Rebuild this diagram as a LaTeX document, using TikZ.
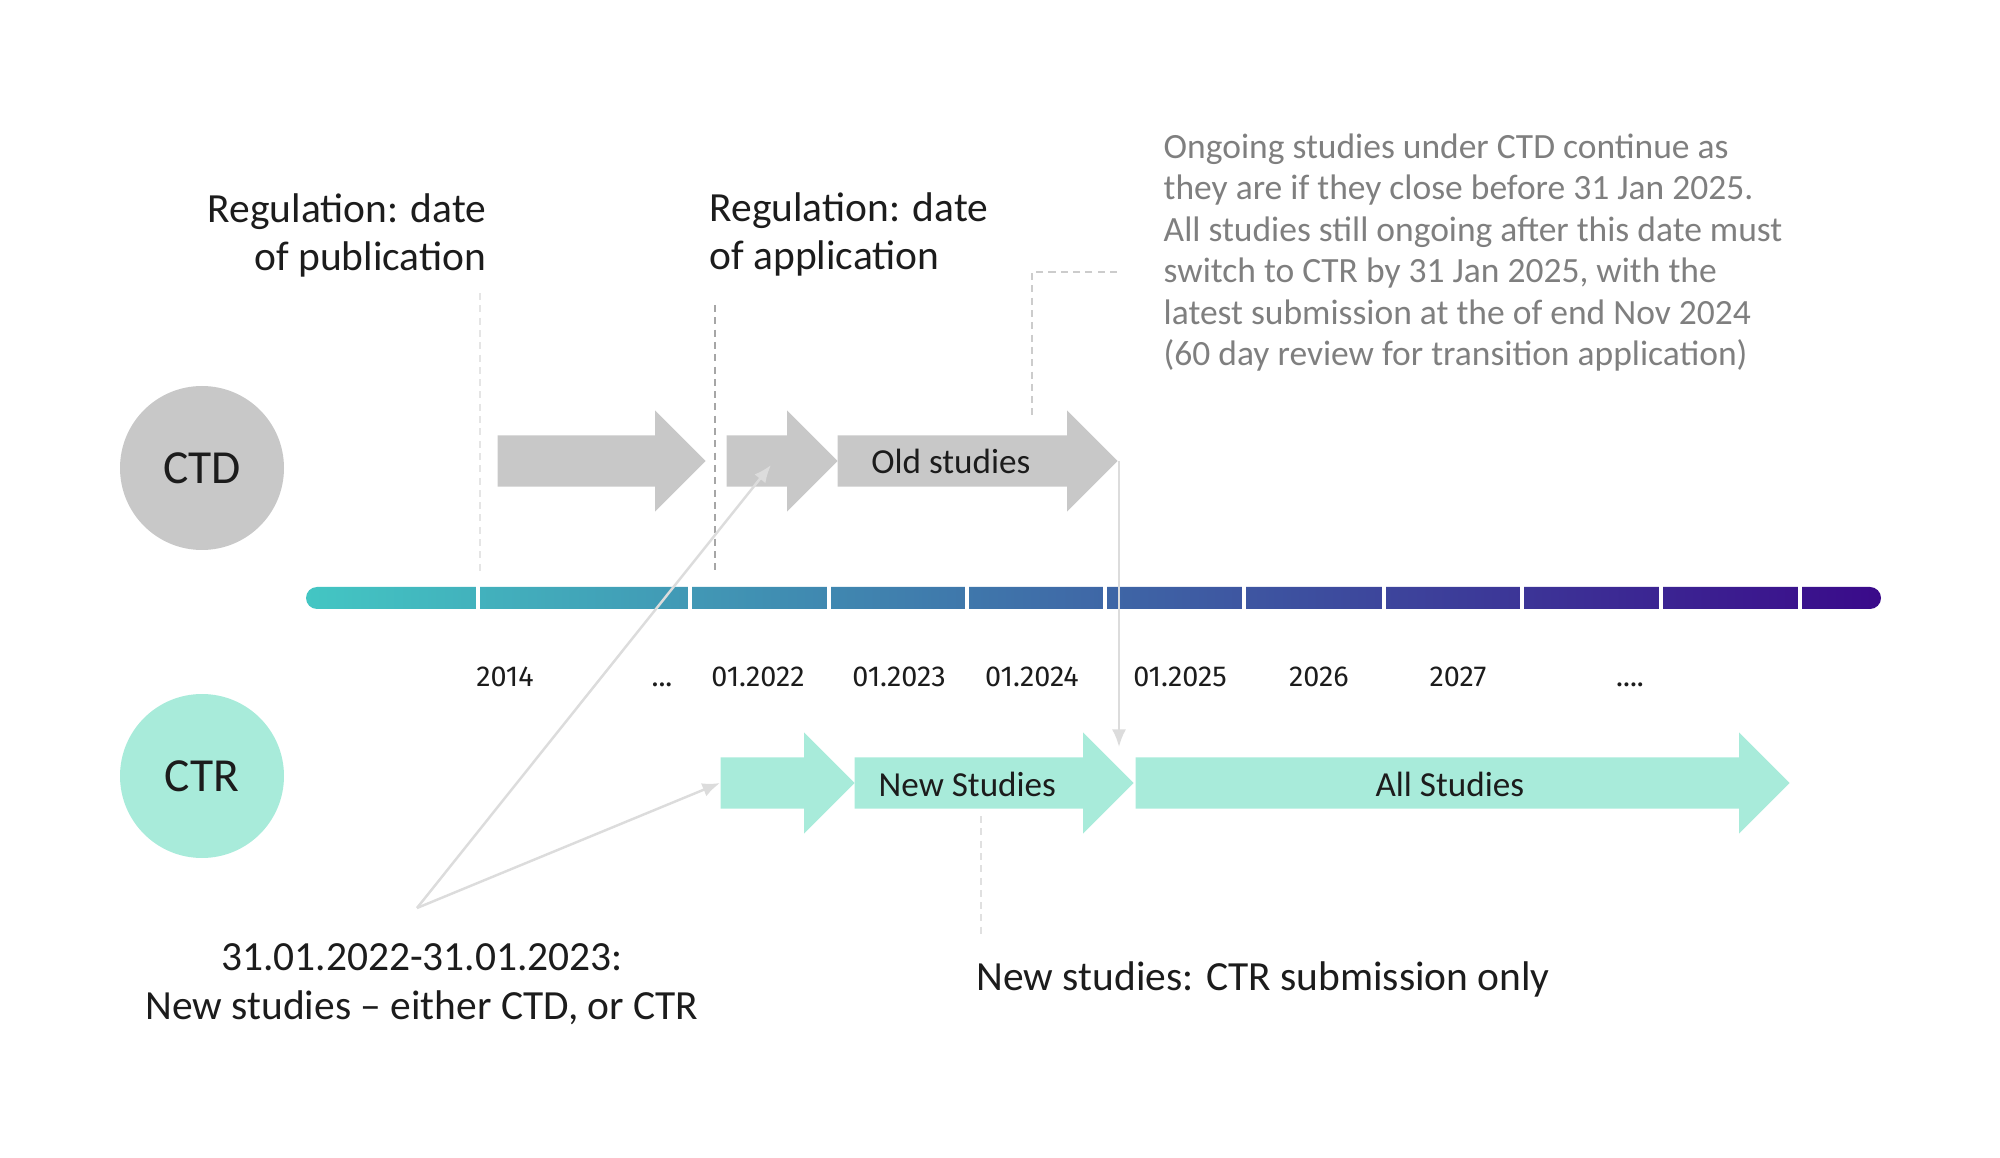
\documentclass[tikz,border=0pt]{standalone}
\usepackage{fontspec}
\setmainfont{Carlito}
\newfontfamily\datefont{Fira Sans}
\usetikzlibrary{shapes.arrows,arrows.meta}

\definecolor{ctdgray}{HTML}{C8C8C8}
\definecolor{ctrgreen}{HTML}{A8EBDA}
\definecolor{barstart}{HTML}{43C6C3}
\definecolor{barmid}{HTML}{3D5AA3}
\definecolor{barend}{HTML}{3A0A8A}
\definecolor{notegray}{HTML}{7F7F7F}
\definecolor{pointergray}{HTML}{DCDCDC}
\definecolor{inktext}{HTML}{1C1C1C}

\tikzset{
  phase/.style={circle, minimum size=1.64cm, inner sep=0pt, text=inktext,
    font=\fontsize{13.5}{15}\selectfont},
  blockarrow/.style={single arrow, single arrow head extend=0.25cm,
    single arrow tip angle=90, inner xsep=0pt, inner ysep=0pt,
    text height=0.38cm, text depth=0.12cm, anchor=tail, text=inktext,
    font=\fontsize{10}{12}\selectfont},
  ctdarrow/.style={blockarrow, fill=ctdgray},
  ctrarrow/.style={blockarrow, fill=ctrgreen},
  yearlabel/.style={anchor=base, inner sep=0pt, text=inktext,
    font=\datefont\fontsize{8.2}{10}\selectfont},
  pointer/.style={draw=pointergray, line width=0.7pt,
    -{Latex[length=5pt,width=4pt]}},
  leader/.style={dashed, dash pattern=on 2pt off 1.5pt, line width=0.4pt}
}

\begin{document}
\begin{tikzpicture}
      \useasboundingbox (0,0) rectangle (20,-11.58);
      %%%%%%%%%%%%%%%%%%%%%%%%%%%%%%%%%%%%%%%%%%%%%%%
      \node[inner sep=0pt, align=right, anchor=north east, text=inktext,
            font=\fontsize{11.8}{13.6}\selectfont] at (4.87,-1.93) (pub)
            {Regulation: date\\of publication};
      \node[inner sep=0pt, align=left, anchor=north west, text=inktext,
            font=\fontsize{11.8}{13.6}\selectfont] at (7.09,-1.92) (app)
            {Regulation: date\\of application};
      \node[inner sep=0pt, align=left, anchor=north west, text=notegray,
            font=\fontsize{10.1}{11.8}\selectfont] at (11.63,-1.33) (ongoing)
            {Ongoing studies under CTD continue as\\
             they are if they close before 31 Jan 2025.\\
             All studies still ongoing after this date must\\
             switch to CTR by 31 Jan 2025, with the\\
             latest submission at the of end Nov 2024\\
             (60 day review for transition application)};
      %%%%%%%%%%%%%%%%%%%%%%%%%%%%%%%%%%%%%%%%%%%%%%%
      \coordinate (pubtop) at (4.80,-2.93);
      \coordinate (pubbot) at (4.80,-5.72);
      \coordinate (apptop) at (7.15,-3.05);
      \coordinate (appbot) at (7.15,-5.73);
      \coordinate (notetop) at (11.17,-2.72);
      \coordinate (notebot) at (10.32,-4.17);
      \draw[leader, draw=black!10] (pubtop) -- (pubbot);
      \draw[leader, draw=black!35] (apptop) -- (appbot);
      \draw[leader, draw=black!20] (notetop) -| (notebot);
      %%%%%%%%%%%%%%%%%%%%%%%%%%%%%%%%%%%%%%%%%%%%%%%
      \node[phase, fill=ctdgray] at (2.02,-4.68) (ctd) {CTD};
      \node[phase, fill=ctrgreen] at (2.02,-7.76) (ctr) {CTR};
      %%%%%%%%%%%%%%%%%%%%%%%%%%%%%%%%%%%%%%%%%%%%%%%
      \node[ctdarrow, minimum height=2.08cm] at (4.97,-4.61) (ctdA) {};
      \node[ctdarrow, minimum height=1.11cm] at (7.26,-4.61) (ctdB) {};
      \node[ctdarrow, minimum height=2.80cm] at (8.37,-4.61) (ctdC)
            {\hspace*{-0.28cm}Old studies};
      %%%%%%%%%%%%%%%%%%%%%%%%%%%%%%%%%%%%%%%%%%%%%%%
      \shade[left color=barstart, middle color=barmid, right color=barend,
             rounded corners=0.11cm] (3.06,-5.87) rectangle (18.81,-6.09);
      \foreach \x in {4.78,6.90,8.29,9.67,11.05,12.44,13.84,15.22,16.61,18.00}
        \draw[white, line width=0.9pt] (\x,-5.84) -- (\x,-6.12);
      %%%%%%%%%%%%%%%%%%%%%%%%%%%%%%%%%%%%%%%%%%%%%%%
      \node[yearlabel] at (5.05,-6.86)  (y1) {2014};
      \node[yearlabel] at (6.62,-6.86)  (y2) {...};
      \node[yearlabel] at (7.58,-6.86)  (y3) {01.2022};
      \node[yearlabel] at (8.99,-6.86)  (y4) {01.2023};
      \node[yearlabel] at (10.32,-6.86) (y5) {01.2024};
      \node[yearlabel] at (11.80,-6.86) (y6) {01.2025};
      \node[yearlabel] at (13.19,-6.86) (y7) {2026};
      \node[yearlabel] at (14.58,-6.86) (y8) {2027};
      \node[yearlabel] at (16.30,-6.86) (y9) {....};
      %%%%%%%%%%%%%%%%%%%%%%%%%%%%%%%%%%%%%%%%%%%%%%%
      \node[ctrarrow, minimum height=1.34cm] at (7.20,-7.83) (ctrA) {};
      \node[ctrarrow, minimum height=2.79cm] at (8.54,-7.83) (ctrB)
            {\hspace*{-0.28cm}New Studies};
      \node[ctrarrow, minimum height=6.54cm] at (11.35,-7.83) (ctrC) {All Studies};
      %%%%%%%%%%%%%%%%%%%%%%%%%%%%%%%%%%%%%%%%%%%%%%%
      \coordinate (switch) at (11.19,-7.47);
      \draw[pointer] (switch |- ctdC.tip) -- (switch);
      %%%%%%%%%%%%%%%%%%%%%%%%%%%%%%%%%%%%%%%%%%%%%%%
      \coordinate (newtop) at (9.81,-8.16);
      \coordinate (newbot) at (9.81,-9.37);
      \draw[leader, draw=black!12] (newtop) -- (newbot);
      \node[inner sep=0pt, anchor=base west, text=inktext,
            font=\fontsize{11.8}{13.6}\selectfont] at (9.76,-9.90) (newonly)
            {New studies: CTR submission only};
      %%%%%%%%%%%%%%%%%%%%%%%%%%%%%%%%%%%%%%%%%%%%%%%
      \coordinate (split) at (4.17,-9.08);
      \coordinate (ctdhit) at (7.71,-4.65);
      \draw[pointer] (split) -- (ctdhit);
      \draw[pointer] (split) -- (ctrA.tail);
      \node[inner sep=0pt, align=center, anchor=north, text=inktext,
            font=\fontsize{11.8}{13.8}\selectfont] at (4.22,-9.43) (both)
            {31.01.2022-31.01.2023:\\New studies -- either CTD, or CTR};
      %%%%%%%%%%%%%%%%%%%%%%%%%%%%%%%%%%%%%%%%%%%%%%%
\end{tikzpicture}
\end{document}
